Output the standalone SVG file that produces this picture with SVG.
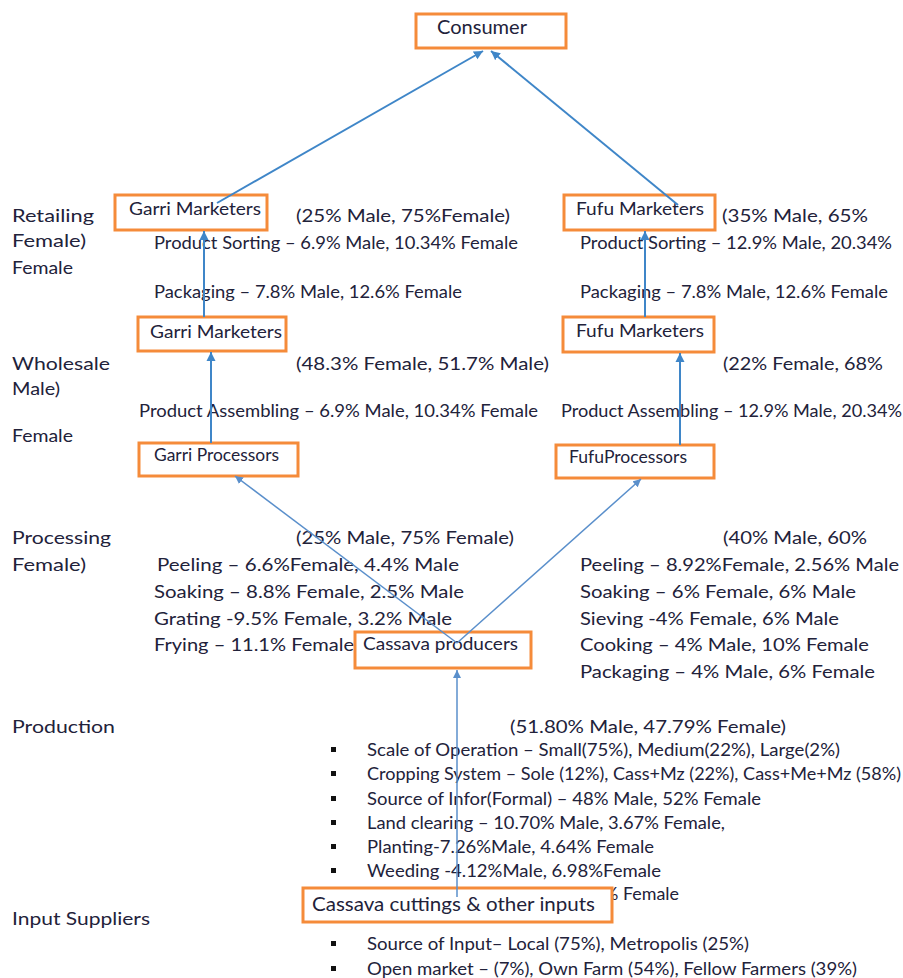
<svg xmlns="http://www.w3.org/2000/svg" width="903" height="978" viewBox="0 0 903 978">
<defs>
<style>
text{font-family:Lato,"Liberation Sans",Arial,sans-serif;fill:#22223a}
.t{font-size:17.5px}
.n{font-size:18px}
.s{font-size:16.5px}
.box{fill:#fff;stroke:#f58b3a;stroke-width:3}
.c{stroke:#3f86c8;stroke-width:2;fill:none}
.c2{stroke:#5a8fcb;stroke-width:1.5;fill:none}
.b{fill:#111}
</style>
<marker id="ah" markerUnits="userSpaceOnUse" markerWidth="10" markerHeight="10" refX="9" refY="5" orient="auto">
<path d="M0,0.5 L9,5 L0,9.5 z" fill="#3f86c8"/>
</marker>
<marker id="ah2" markerUnits="userSpaceOnUse" markerWidth="9" markerHeight="9" refX="8" refY="4.5" orient="auto">
<path d="M0,0.5 L8,4.5 L0,8.5 z" fill="#5a8fcb"/>
</marker>
</defs>
<rect width="903" height="978" fill="#fff"/>

<g id="labels">
<text class="t" x="12" y="222" textLength="82" lengthAdjust="spacingAndGlyphs">Retailing</text>
<text class="t" x="12" y="247" textLength="74" lengthAdjust="spacingAndGlyphs">Female)</text>
<text class="t" x="12" y="274" textLength="61" lengthAdjust="spacingAndGlyphs">Female</text>
<text class="t" x="12" y="370" textLength="98" lengthAdjust="spacingAndGlyphs">Wholesale</text>
<text class="t" x="12" y="395" textLength="48" lengthAdjust="spacingAndGlyphs">Male)</text>
<text class="t" x="12" y="442" textLength="61" lengthAdjust="spacingAndGlyphs">Female</text>
<text class="t" x="12" y="544" textLength="99" lengthAdjust="spacingAndGlyphs">Processing</text>
<text class="t" x="12" y="571" textLength="74" lengthAdjust="spacingAndGlyphs">Female)</text>
<text class="t" x="12" y="733" textLength="103" lengthAdjust="spacingAndGlyphs">Production</text>
<text class="t" x="12" y="925" textLength="138" lengthAdjust="spacingAndGlyphs">Input Suppliers</text>

<text class="t" x="296" y="222" textLength="214" lengthAdjust="spacingAndGlyphs">(25% Male, 75%Female)</text>
<text class="t" x="154" y="249" textLength="364" lengthAdjust="spacingAndGlyphs">Product Sorting – 6.9% Male, 10.34% Female</text>
<text class="t" x="154" y="298" textLength="308" lengthAdjust="spacingAndGlyphs">Packaging – 7.8% Male, 12.6% Female</text>
<text class="t" x="722" y="222" textLength="146" lengthAdjust="spacingAndGlyphs">(35% Male, 65%</text>
<text class="t" x="580" y="249" textLength="312" lengthAdjust="spacingAndGlyphs">Product Sorting – 12.9% Male, 20.34%</text>
<text class="t" x="580" y="298" textLength="308" lengthAdjust="spacingAndGlyphs">Packaging – 7.8% Male, 12.6% Female</text>

<text class="t" x="296" y="370" textLength="253" lengthAdjust="spacingAndGlyphs">(48.3% Female, 51.7% Male)</text>
<text class="t" x="139" y="417" textLength="399" lengthAdjust="spacingAndGlyphs">Product Assembling – 6.9% Male, 10.34% Female</text>
<text class="t" x="723" y="370" textLength="160" lengthAdjust="spacingAndGlyphs">(22% Female, 68%</text>
<text class="t" x="561" y="417" textLength="341" lengthAdjust="spacingAndGlyphs">Product Assembling – 12.9% Male, 20.34%</text>

<text class="t" x="296" y="544" textLength="218" lengthAdjust="spacingAndGlyphs">(25% Male, 75% Female)</text>
<text class="t" x="157" y="571" textLength="302" lengthAdjust="spacingAndGlyphs">Peeling – 6.6%Female, 4.4% Male</text>
<text class="t" x="154" y="598" textLength="310" lengthAdjust="spacingAndGlyphs">Soaking – 8.8% Female, 2.5% Male</text>
<text class="t" x="154" y="625" textLength="298" lengthAdjust="spacingAndGlyphs">Grating -9.5% Female, 3.2% Male</text>
<text class="t" x="154" y="651" textLength="200" lengthAdjust="spacingAndGlyphs">Frying – 11.1% Female</text>
<text class="t" x="723" y="544" textLength="144" lengthAdjust="spacingAndGlyphs">(40% Male, 60%</text>
<text class="t" x="580" y="571" textLength="319" lengthAdjust="spacingAndGlyphs">Peeling – 8.92%Female, 2.56% Male</text>
<text class="t" x="580" y="598" textLength="276" lengthAdjust="spacingAndGlyphs">Soaking – 6% Female, 6% Male</text>
<text class="t" x="580" y="625" textLength="259" lengthAdjust="spacingAndGlyphs">Sieving -4% Female, 6% Male</text>
<text class="t" x="580" y="651" textLength="289" lengthAdjust="spacingAndGlyphs">Cooking – 4% Male, 10% Female</text>
<text class="t" x="580" y="678" textLength="295" lengthAdjust="spacingAndGlyphs">Packaging – 4% Male, 6% Female</text>

<text class="t" x="510" y="733" textLength="276" lengthAdjust="spacingAndGlyphs">(51.80% Male, 47.79% Female)</text>
<rect class="b" x="331" y="747" width="5" height="5"/>
<rect class="b" x="331" y="771" width="5" height="5"/>
<rect class="b" x="331" y="796" width="5" height="5"/>
<rect class="b" x="331" y="820" width="5" height="5"/>
<rect class="b" x="331" y="844" width="5" height="5"/>
<rect class="b" x="331" y="868" width="5" height="5"/>
<text class="t" x="367" y="756" textLength="473" lengthAdjust="spacingAndGlyphs">Scale of Operation – Small(75%), Medium(22%), Large(2%)</text>
<text class="t" x="367" y="780" textLength="534" lengthAdjust="spacingAndGlyphs">Cropping System – Sole (12%), Cass+Mz (22%), Cass+Me+Mz (58%)</text>
<text class="t" x="367" y="805" textLength="394" lengthAdjust="spacingAndGlyphs">Source of Infor(Formal) – 48% Male, 52% Female</text>
<text class="t" x="367" y="829" textLength="358" lengthAdjust="spacingAndGlyphs">Land clearing – 10.70% Male, 3.67% Female,</text>
<text class="t" x="367" y="853" textLength="287" lengthAdjust="spacingAndGlyphs">Planting-7.26%Male, 4.64% Female</text>
<text class="t" x="367" y="877" textLength="294" lengthAdjust="spacingAndGlyphs">Weeding -4.12%Male, 6.98%Female</text>
<text class="t" x="604" y="900" textLength="75" lengthAdjust="spacingAndGlyphs">% Female</text>
<rect class="b" x="331" y="941" width="5" height="5"/>
<rect class="b" x="331" y="966" width="5" height="5"/>
<text class="t" x="367" y="950" textLength="382" lengthAdjust="spacingAndGlyphs">Source of Input– Local (75%), Metropolis (25%)</text>
<text class="t" x="367" y="975" textLength="490" lengthAdjust="spacingAndGlyphs">Open market – (7%), Own Farm (54%), Fellow Farmers (39%)</text>
</g>

<g id="consumer">
<rect class="box" x="416" y="14" width="150" height="34"/>
<text x="437" y="34" font-size="19" textLength="90" lengthAdjust="spacingAndGlyphs">Consumer</text>
</g>
<g id="garri-retail">
<rect class="box" x="115" y="195" width="152" height="35"/>
<text class="n" x="129" y="215" textLength="132" lengthAdjust="spacingAndGlyphs">Garri Marketers</text>
</g>
<g id="fufu-retail">
<rect class="box" x="564" y="195" width="151" height="35"/>
<text class="n" x="576" y="215" textLength="128" lengthAdjust="spacingAndGlyphs">Fufu Marketers</text>
</g>
<g id="garri-wholesale">
<rect class="box" x="138" y="317" width="148" height="34"/>
<text class="n" x="150" y="338" textLength="132" lengthAdjust="spacingAndGlyphs">Garri Marketers</text>
</g>
<g id="fufu-wholesale">
<rect class="box" x="563" y="317" width="151" height="35"/>
<text class="n" x="576" y="337" textLength="128" lengthAdjust="spacingAndGlyphs">Fufu Marketers</text>
</g>
<g id="garri-processors">
<rect class="box" x="139" y="443" width="159" height="33"/>
<text class="s" x="154" y="461" textLength="125" lengthAdjust="spacingAndGlyphs">Garri Processors</text>
</g>
<g id="fufu-processors">
<rect class="box" x="556" y="445" width="158" height="33"/>
<text class="s" x="569" y="463" textLength="118" lengthAdjust="spacingAndGlyphs">FufuProcessors</text>
</g>
<g id="cassava-producers">
<rect class="box" x="355" y="632" width="176" height="36"/>
<text class="n" x="363" y="650" textLength="155" lengthAdjust="spacingAndGlyphs">Cassava producers</text>
</g>
<g id="cassava-inputs">
<rect class="box" x="303" y="888" width="309" height="34"/>
<text x="312" y="911" font-size="19" textLength="283" lengthAdjust="spacingAndGlyphs">Cassava cuttings &amp; other inputs</text>
</g>

<g id="connectors">
<path class="c" d="M217,203 L483,51" marker-end="url(#ah)"/>
<path class="c" d="M678,205 L491,51" marker-end="url(#ah)"/>
<path class="c" d="M204,317 L204,231" marker-end="url(#ah)"/>
<path class="c" d="M211,443 L211,352" marker-end="url(#ah)"/>
<path class="c" d="M645,317 L645,231" marker-end="url(#ah)"/>
<path class="c" d="M680,445 L680,353" marker-end="url(#ah)"/>
<path class="c2" d="M457,643 L235,476" marker-end="url(#ah2)"/>
<path class="c2" d="M457,643 L641,479" marker-end="url(#ah2)"/>
<path class="c2" d="M457,897 L457,670" marker-end="url(#ah2)"/>
</g>
</svg>
